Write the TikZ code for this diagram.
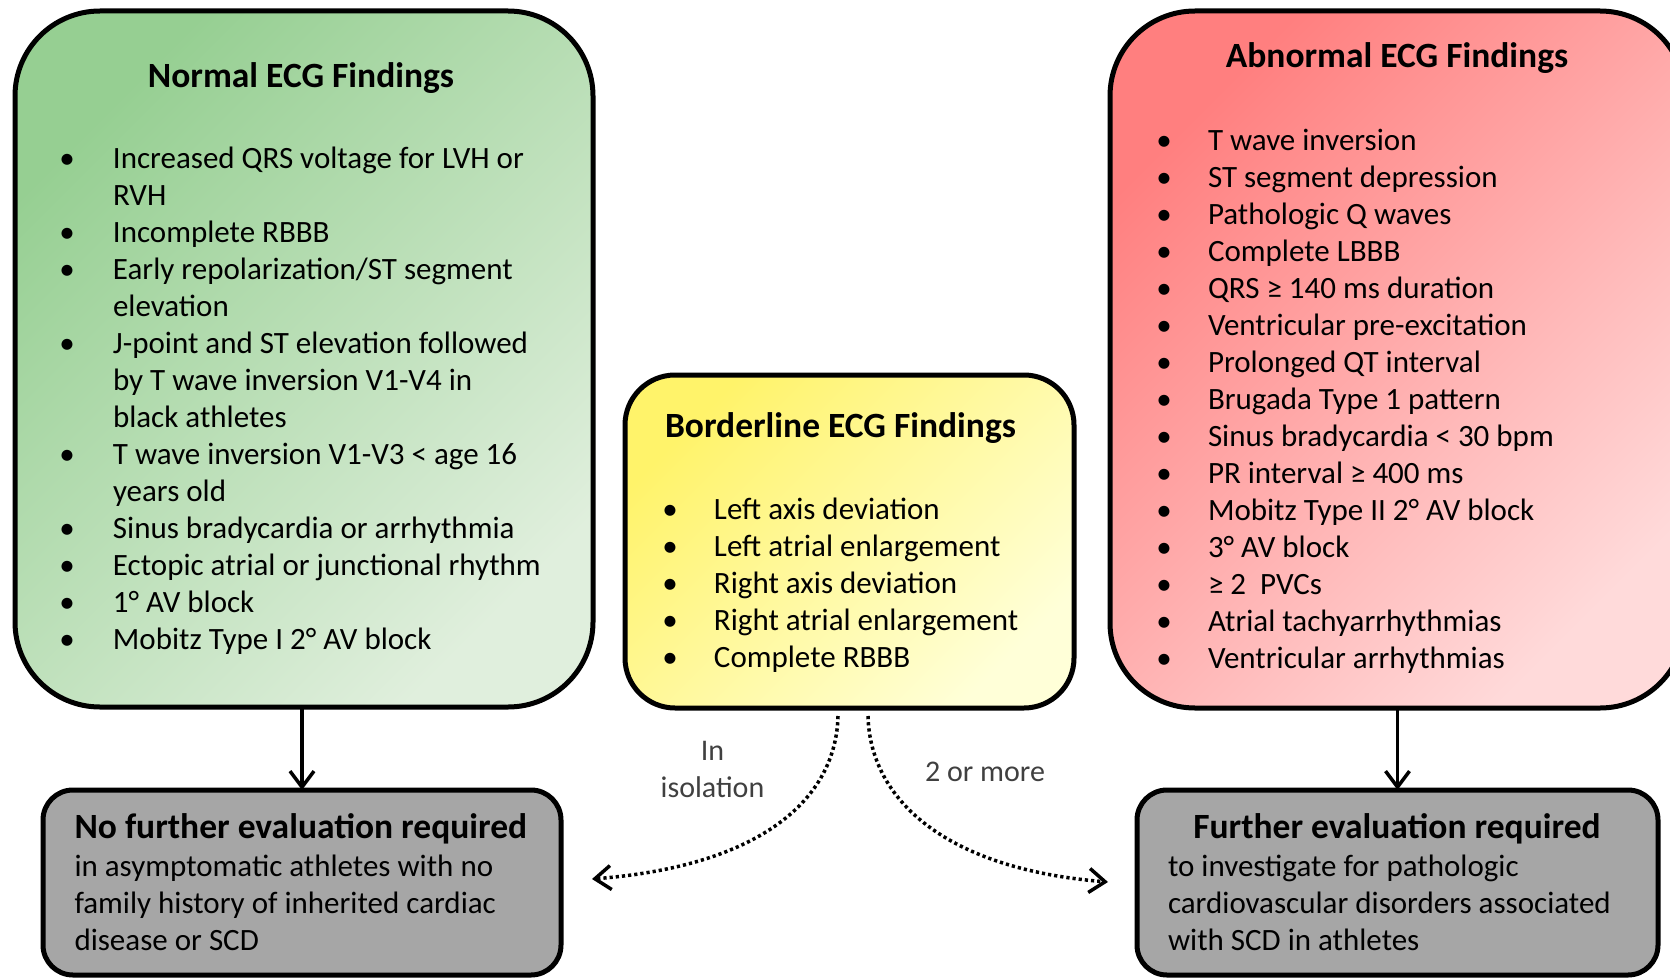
\documentclass[tikz,border=0pt]{standalone}
\usepackage{fontspec}
\setmainfont{Carlito}
\usetikzlibrary{arrows.meta}
\definecolor{greenA}{HTML}{96CF92}
\definecolor{greenB}{HTML}{E0EFDD}
\definecolor{redA}{HTML}{FF7F7F}
\definecolor{redB}{HTML}{FFDADA}
\definecolor{yelA}{HTML}{FFF36A}
\definecolor{yelB}{HTML}{FFFFD8}
\definecolor{boxgray}{HTML}{A6A6A6}
\definecolor{labelgray}{HTML}{404040}
\newcommand\bulx[1]{\makebox[#1][l]{\makebox[0pt]{\textbullet}}}
\begin{document}
\begin{tikzpicture}[x=1pt,y=-1pt,
  findbox/.style={draw=black, line width=5pt, inner sep=0pt, outer sep=0pt},
  listtxt/.style={inner sep=0pt, outer sep=0pt, anchor=base west, font=\fontsize{31}{37}\selectfont},
  titletxt/.style={inner sep=0pt, outer sep=0pt, anchor=base, font=\fontsize{35.5}{42}\selectfont\bfseries},
  flow/.style={line width=3.5pt, -{Straight Barb[length=16pt,width=24pt]}},
  dotflow/.style={line width=3.5pt, dash pattern=on 3.2pt off 3pt, -{Straight Barb[length=16pt,width=24pt]}},
  lbl/.style={inner sep=0pt, font=\fontsize{30}{37}\selectfont, text=labelgray, align=center}]
\useasboundingbox (0,0) rectangle (1670,979);

% boxes
\node[findbox, rounded corners=85pt, minimum width=578pt, minimum height=696pt,
  top color=greenA, bottom color=greenB, shading angle=45] (green) at (304,359) {};
\node[findbox, rounded corners=85pt, minimum width=575pt, minimum height=697pt,
  top color=redA, bottom color=redB, shading angle=45] (red) at (1397.5,359.5) {};
\node[findbox, rounded corners=50pt, minimum width=449pt, minimum height=333pt,
  top color=yelA, bottom color=yelB, shading angle=45] (yellow) at (849.5,541.5) {};
\node[findbox, rounded corners=30pt, minimum width=518pt, minimum height=185pt,
  fill=boxgray] (grayL) at (302,882.5) {};
\node[findbox, rounded corners=30pt, minimum width=521pt, minimum height=185pt,
  fill=boxgray] (grayR) at (1397.5,882.5) {};

% titles
\node[titletxt] (greenTitle) at (301,87.5) {Normal ECG Findings};
\node[titletxt] (redTitle) at (1397,68) {Abnormal ECG Findings};
\node[titletxt, anchor=base west] (yelTitle) at (665,437.5) {Borderline ECG Findings};

% lists
\node[listtxt] (greenList) at (67,168) {\begin{tabular}[t]{@{}l@{}l@{}}
\bulx{46pt} & Increased QRS voltage for LVH or\\
 & RVH\\
\bulx{46pt} & Incomplete RBBB\\
\bulx{46pt} & Early repolarization/ST segment\\
 & elevation\\
\bulx{46pt} & J-point and ST elevation followed\\
 & by T wave inversion V1-V4 in\\
 & black athletes\\
\bulx{46pt} & T wave inversion V1-V3 < age 16\\
 & years old\\
\bulx{46pt} & Sinus bradycardia or arrhythmia\\
\bulx{46pt} & Ectopic atrial or junctional rhythm\\
\bulx{46pt} & 1° AV block\\
\bulx{46pt} & Mobitz Type I 2° AV block
\end{tabular}};

\node[listtxt] (yelList) at (670,519) {\begin{tabular}[t]{@{}l@{}l@{}}
\bulx{44pt} & Left axis deviation\\
\bulx{44pt} & Left atrial enlargement\\
\bulx{44pt} & Right axis deviation\\
\bulx{44pt} & Right atrial enlargement\\
\bulx{44pt} & Complete RBBB
\end{tabular}};

\node[listtxt] (redList) at (1164,150) {\begin{tabular}[t]{@{}l@{}l@{}}
\bulx{44pt} & T wave inversion\\
\bulx{44pt} & ST segment depression\\
\bulx{44pt} & Pathologic Q waves\\
\bulx{44pt} & Complete LBBB\\
\bulx{44pt} & QRS ≥ 140 ms duration\\
\bulx{44pt} & Ventricular pre-excitation\\
\bulx{44pt} & Prolonged QT interval\\
\bulx{44pt} & Brugada Type 1 pattern\\
\bulx{44pt} & Sinus bradycardia < 30 bpm\\
\bulx{44pt} & PR interval ≥ 400 ms\\
\bulx{44pt} & Mobitz Type II 2° AV block\\
\bulx{44pt} & 3° AV block\\
\bulx{44pt} & ≥ 2\ \ PVCs\\
\bulx{44pt} & Atrial tachyarrhythmias\\
\bulx{44pt} & Ventricular arrhythmias
\end{tabular}};

% gray boxes text
\node[titletxt, anchor=base west] (grayLTitle) at (74.5,838) {No further evaluation required};
\node[listtxt] (grayLBody) at (74.5,876) {\begin{tabular}[t]{@{}l@{}}
in asymptomatic athletes with no\\
family history of inherited cardiac\\
disease or SCD
\end{tabular}};
\node[titletxt] (grayRTitle) at (1397,838) {Further evaluation required};
\node[listtxt] (grayRBody) at (1168,876) {\begin{tabular}[t]{@{}l@{}}
to investigate for pathologic\\
cardiovascular disorders associated\\
with SCD in athletes
\end{tabular}};

% solid arrows
\draw[flow] (grayL.north |- green.south) -- (grayL.north);
\draw[flow] (grayR.north |- red.south) -- (grayR.north);

% dotted arrows
\coordinate (isoStart) at (838,716);
\coordinate (isoEnd) at (592,879);
\coordinate (moreStart) at (868,716);
\coordinate (moreEnd) at (1108,882);
\draw[dotflow] (isoStart) .. controls (836,800) and (760,866) .. (isoEnd);
\draw[dotflow] (moreStart) .. controls (870,800) and (946,869) .. (moreEnd);

\node[lbl] (isoLabel) at (712.5,769) {In\\isolation};
\node[lbl] (moreLabel) at (985,772) {2 or more};
\end{tikzpicture}
\end{document}
